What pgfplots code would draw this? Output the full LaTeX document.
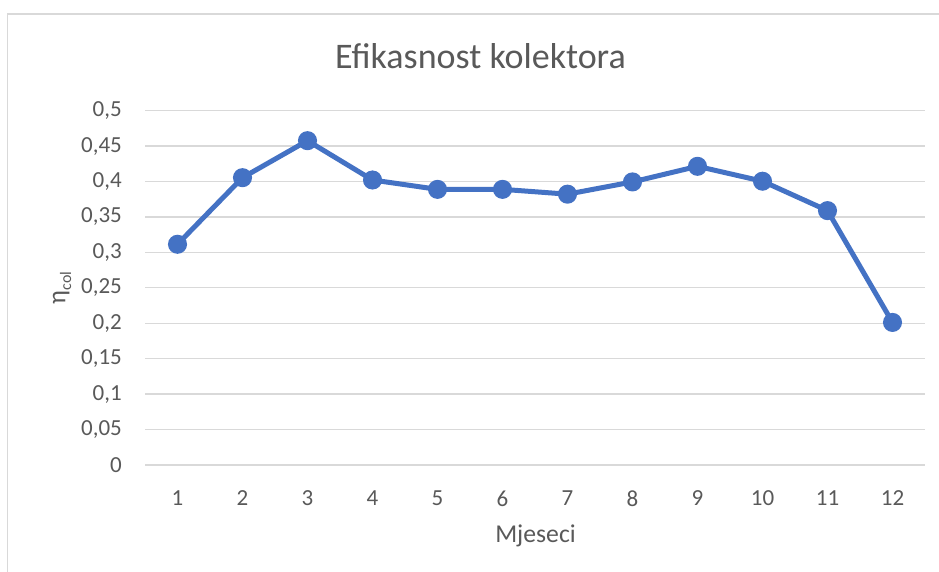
\documentclass[border=0pt]{standalone}
\usepackage{fontspec}
\setmainfont{Carlito}
\usepackage{pgfplots}
\pgfplotsset{compat=1.18}
\definecolor{txt}{HTML}{595959}
\definecolor{gridc}{HTML}{D9D9D9}
\definecolor{linec}{HTML}{4472C4}
\begin{document}
\begin{tikzpicture}[x=1pt,y=1pt]
\path[use as bounding box] (0,0) rectangle (939,572);
\draw[gridc, line width=1.3pt] (7.5,0) -- (7.5,558) -- (939,558);
\begin{axis}[
  at={(145pt,107pt)}, anchor=south west,
  scale only axis, width=780pt, height=354.3pt,
  xmin=0.5, xmax=12.5, ymin=0, ymax=0.5,
  axis line style={draw=none},
  major tick length=0pt,
  xtick={1,2,3,4,5,6,7,8,9,10,11,12},
  ytick={0,0.05,0.1,0.15,0.2,0.25,0.3,0.35,0.4,0.45,0.5},
  yticklabels={0,{0,05},{0,1},{0,15},{0,2},{0,25},{0,3},{0,35},{0,4},{0,45},{0,5}},
  /pgf/number format/assume math mode=true,
  ymajorgrids, grid style={gridc, line width=1.3pt},
  tick label style={font=\fontsize{23}{27}\selectfont, text=txt},
  yticklabel style={inner sep=0pt, xshift=-23pt},
  xticklabel style={inner sep=0pt, yshift=-25.5pt},
  clip=false,
]
\addplot[linec, line width=5pt, mark=*, mark size=7pt, mark options={fill=linec, draw=none, solid}]
coordinates {
(1,0.3115) (2,0.4055) (3,0.4577) (4,0.4022) (5,0.3890) (6,0.3890)
(7,0.3822) (8,0.3995) (9,0.4215) (10,0.4005) (11,0.3590) (12,0.2012)
};
\end{axis}
\node[anchor=base, text=txt, font=\fontsize{36}{43}\selectfont, inner sep=0pt] at (480.5,503.7) {Efikasnost kolektora};
\node[anchor=base, text=txt, font=\fontsize{25.7}{30}\selectfont, inner sep=0pt] at (535.5,29) {Mjeseci};
\node[rotate=90, text=txt, font=\fontsize{25.7}{30}\selectfont, inner sep=0pt] at (62,284) {η\raisebox{-0.22em}{\fontsize{16}{19}\selectfont col}};
\end{tikzpicture}
\end{document}
